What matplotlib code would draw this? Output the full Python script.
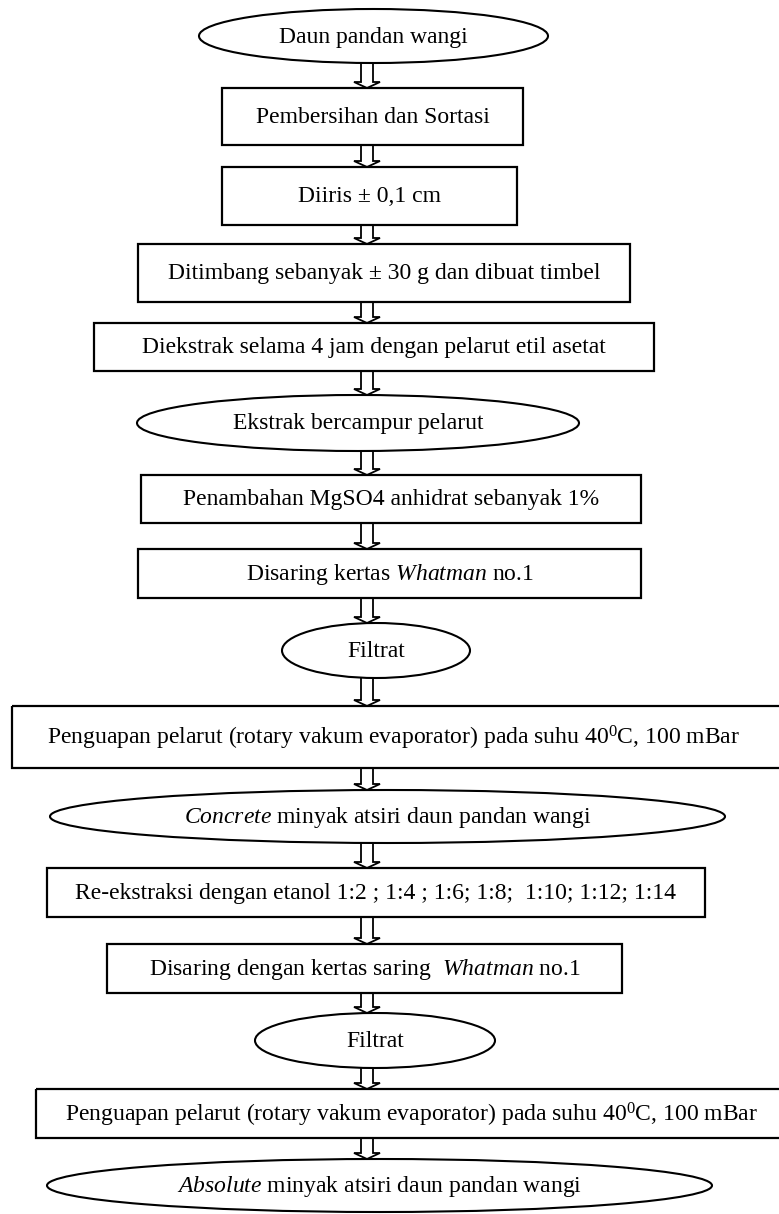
import matplotlib
matplotlib.use("Agg")
import matplotlib.pyplot as plt
from matplotlib.patches import Ellipse, Rectangle, Polygon

plt.rcParams["font.family"] = ["Liberation Serif", "DejaVu Serif"]
plt.rcParams["mathtext.fontset"] = "custom"
plt.rcParams["mathtext.rm"] = "Liberation Serif"
plt.rcParams["mathtext.it"] = "Liberation Serif:italic"

# flowchart steps, top to bottom
labels = [
    "Daun pandan wangi",
    "Pembersihan dan Sortasi",
    "Diiris \u00b1 0,1 cm",
    "Ditimbang sebanyak \u00b1 30 g dan dibuat timbel",
    "Diekstrak selama 4 jam dengan pelarut etil asetat",
    "Ekstrak bercampur pelarut",
    "Penambahan MgSO4 anhidrat sebanyak 1%",
    "Disaring kertas $\\mathit{Whatman}$ no.1",
    "Filtrat",
    "Penguapan pelarut (rotary vakum evaporator) pada suhu 40$^{\\mathrm{0}}$C, 100 mBar",
    "$\\mathit{Concrete}$ minyak atsiri daun pandan wangi",
    "Re-ekstraksi dengan etanol 1:2 ; 1:4 ; 1:6; 1:8;  1:10; 1:12; 1:14",
    "Disaring dengan kertas saring  $\\mathit{Whatman}$ no.1",
    "Filtrat",
    "Penguapan pelarut (rotary vakum evaporator) pada suhu 40$^{\\mathrm{0}}$C, 100 mBar",
    "$\\mathit{Absolute}$ minyak atsiri daun pandan wangi",
]
shapes = ["ellipse", "box", "box", "box", "box", "ellipse", "box", "box",
          "ellipse", "box", "ellipse", "box", "box", "ellipse", "box", "ellipse"]

# layout in pixels: x0, x1, y0, y1
layout = [
    (199, 548, 9, 63),
    (222, 523, 88, 145),
    (222, 517, 167, 225),
    (138, 630, 244, 302),
    (94, 654, 323, 371),
    (137, 579, 395, 451),
    (141, 641, 475, 523),
    (138, 641, 549, 598),
    (282, 470, 623, 678),
    (12, 810, 706, 768),
    (50, 725, 790, 843),
    (47, 705, 868, 917),
    (107, 622, 944, 993),
    (255, 495, 1013, 1068),
    (36, 810, 1089, 1138),
    (47, 712, 1159, 1212),
]
text_x = {9: 394, 14: 412}

W, H = 779, 1214
fig = plt.figure(figsize=(W / 100, H / 100), dpi=100)
ax = fig.add_axes([0, 0, 1, 1])
ax.set_xlim(0, W)
ax.set_ylim(H, 0)
ax.axis("off")

for i, (lab, shp, (x0, x1, y0, y1)) in enumerate(zip(labels, shapes, layout)):
    cx, cy = (x0 + x1) / 2, (y0 + y1) / 2
    if shp == "ellipse":
        p = Ellipse((cx, cy), x1 - x0, y1 - y0, fill=False, lw=1.5, ec="black")
    else:
        p = Rectangle((x0, y0), x1 - x0, y1 - y0, fill=False, lw=1.6, ec="black")
    ax.add_patch(p)
    ax.text(text_x.get(i, cx), cy + 1, lab, ha="center", va="center",
            fontsize=17, color="black")

# hollow block arrows between consecutive steps
ax_c, shaft, head, head_h = 367, 6, 13, 6
for (a, b) in zip(layout[:-1], layout[1:]):
    ya, yb = a[3], b[2]
    pts = [(ax_c - shaft, ya), (ax_c - shaft, yb - head_h), (ax_c - head, yb - head_h),
           (ax_c, yb), (ax_c + head, yb - head_h), (ax_c + shaft, yb - head_h),
           (ax_c + shaft, ya)]
    ax.add_patch(Polygon(pts, closed=False, fill=False, lw=1.3, ec="black",
                         joinstyle="miter"))

fig.savefig("out.png", dpi=100)
